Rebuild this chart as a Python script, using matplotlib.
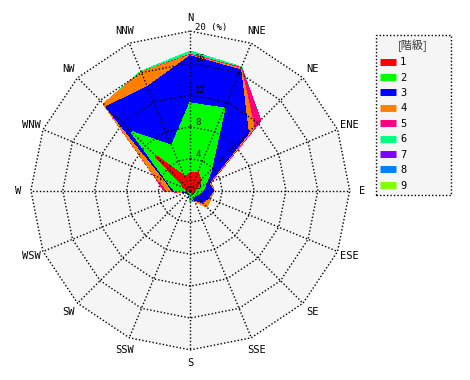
import numpy as np
import matplotlib
matplotlib.use("Agg")
import matplotlib.pyplot as plt
from matplotlib.lines import Line2D

# wind directions, clockwise from north
directions = ["N", "NNE", "NE", "ENE", "E", "ESE", "SE", "SSE",
              "S", "SSW", "SW", "WSW", "W", "WNW", "NW", "NNW"]
classes = ["1", "2", "3", "4", "5", "6", "7", "8", "9"]
colors = ["#ff0000", "#00ff00", "#0000ff", "#ff8000", "#ff0080",
          "#00ff80", "#8000ff", "#0080ff", "#80ff00"]

# frequency (%) of each speed class per direction
class1 = [2.1, 2.4, 1.8, 0.8, 0.4, 0.3, 0.3, 0.2, 0.2, 0.1, 0.1, 0.1, 0.4, 0.5, 6.0, 1.8]
class2 = [8.8, 8.7, 1.8, 1.2, 1.1, 0.7, 0.5, 0.6, 1.1, 0.2, 0.2, 0.2, 1.5, 2.6, 4.3, 4.2]
class3 = [5.9, 5.2, 6.6, 0.4, 1.3, 1.4, 1.2, 0.3, 0.0, 0.1, 0.1, 0.1, 0.3, 0.2, 4.5, 8.0]
class4 = [0.1, 0.2, 1.0, 0.2, 0.1, 0.3, 0.8, 0.2, 0.0, 0.0, 0.0, 0.1, 0.6, 1.4, 0.5, 2.0]
class5 = [0.1, 0.1, 1.2, 0.1, 0.0, 0.0, 0.0, 0.0, 0.0, 0.0, 0.1, 0.1, 0.4, 0.1, 0.0, 0.0]
class6 = [0.4, 0.1, 0.0, 0.0, 0.0, 0.0, 0.0, 0.0, 0.0, 0.0, 0.0, 0.0, 0.0, 0.0, 0.0, 0.1]
class7 = [0.0] * 16
class8 = [0.0] * 16
class9 = [0.0] * 16

rings = [0, 4, 8, 12, 16, 20]
rmax = 20

freq = np.array([class1, class2, class3, class4, class5,
                 class6, class7, class8, class9])
cum = np.cumsum(freq, axis=0)

theta = np.deg2rad(np.arange(len(directions)) * 360.0 / len(directions))
th = np.append(theta, theta[0])

fig = plt.figure(figsize=(4.7, 3.8), dpi=100)
ax = fig.add_axes([30.9 / 470, 30.1 / 380, 318.8 / 470, 318.8 / 380],
                  projection="polar")
ax.set_theta_zero_location("N")
ax.set_theta_direction(-1)
ax.set_ylim(0, rmax)
ax.set_xticks([])
ax.set_yticks([])
ax.grid(False)
ax.spines["polar"].set_visible(False)
ax.patch.set_visible(False)

mono = "DejaVu Sans Mono"

# grey 16-gon background
ax.fill(th, [rmax] * len(th), color="#f5f5f5", zorder=0, clip_on=False)

# stacked classes, biggest first
for i in range(len(classes) - 1, -1, -1):
    r = np.append(cum[i], cum[i][0])
    ax.fill(th, r, color=colors[i], antialiased=False, zorder=1 + (9 - i) * 0.1)

# dotted grid
for r in rings[1:]:
    ax.plot(th, [r] * len(th), color="black", lw=1, ls=(0, (1, 1.5)),
            zorder=5, clip_on=False)
for t in theta:
    ax.plot([t, t], [0, rmax], color="black", lw=1, ls=(0, (1, 1.5)),
            zorder=5, clip_on=False)

for t, name in zip(theta, directions):
    ax.text(t, 21.6, name, ha="center", va="center", fontsize=7.5,
            family=mono)

for r in rings:
    lab = str(r) if r < rmax else str(r) + " (%)"
    ax.annotate(lab, xy=(0, r), xytext=(5, 4), textcoords="offset pixels",
                ha="left", va="center", fontsize=6.5, family=mono, zorder=6)

handles = [Line2D([], [], color=c, lw=5, solid_capstyle="butt") for c in colors]
leg = fig.legend(handles, classes, loc="upper left",
                 bbox_to_anchor=(375.7 / 470, 1 - 35 / 380, 75 / 470, 0),
                 mode="expand", borderaxespad=0, title="[階級]",
                 prop={"family": mono, "size": 7.5},
                 title_fontproperties={"family": ["Noto Sans CJK JP", "DejaVu Sans"],
                                       "size": 8},
                 handlelength=1.55, handletextpad=0.4, labelspacing=0.52,
                 borderpad=0.4, fancybox=False, framealpha=1)
leg.get_title().set_color("#333333")
frame = leg.get_frame()
frame.set_facecolor("#f5f5f5")
frame.set_edgecolor("black")
frame.set_linestyle((0, (1, 1.5)))
frame.set_linewidth(1)

fig.savefig("out.png", dpi=100)
